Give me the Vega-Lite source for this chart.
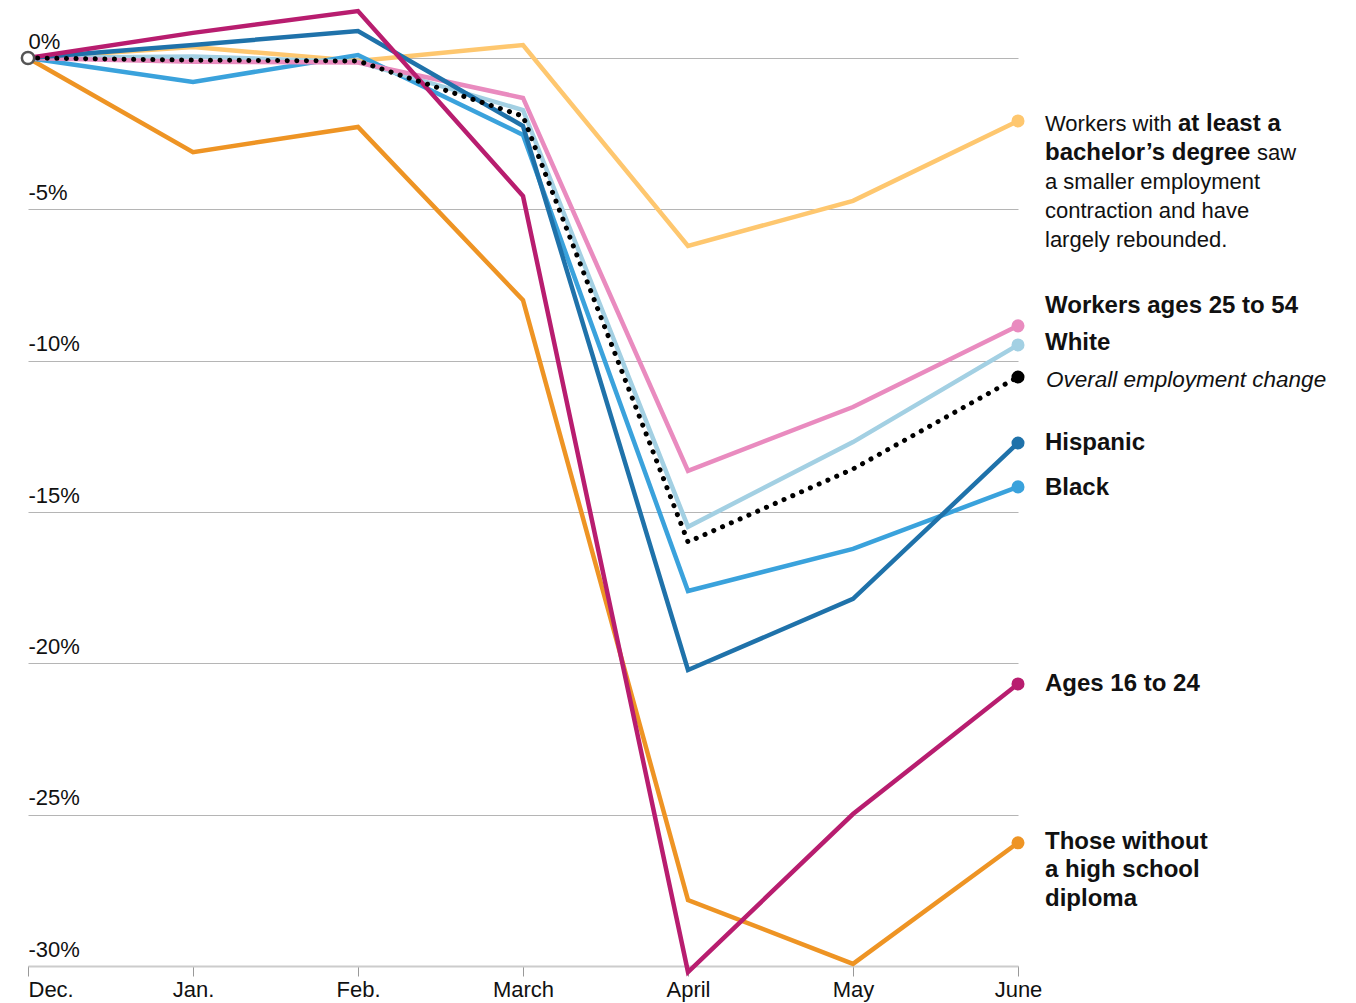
{
  "$schema": "https://vega.github.io/schema/vega-lite/v6.json",
  "autosize": {"type": "none"},
  "width": 990,
  "height": 908,
  "padding": {"left": 28, "top": 58, "right": 338, "bottom": 37},
  "background": "white",
  "config": {"view": {"stroke": null}, "font": "Liberation Sans"},
  "datasets": {
    "series": [
      {"month": "Dec.", "series": "bach", "value": 0},
      {"month": "Jan.", "series": "bach", "value": 0.36},
      {"month": "Feb.", "series": "bach", "value": -0.1},
      {"month": "March", "series": "bach", "value": 0.43},
      {"month": "April", "series": "bach", "value": -6.21},
      {"month": "May", "series": "bach", "value": -4.72},
      {"month": "June", "series": "bach", "value": -2.08},
      {"month": "Dec.", "series": "nohs", "value": 0},
      {"month": "Jan.", "series": "nohs", "value": -3.11},
      {"month": "Feb.", "series": "nohs", "value": -2.28},
      {"month": "March", "series": "nohs", "value": -8.0},
      {"month": "April", "series": "nohs", "value": -27.82},
      {"month": "May", "series": "nohs", "value": -29.93},
      {"month": "June", "series": "nohs", "value": -25.93},
      {"month": "Dec.", "series": "black", "value": 0},
      {"month": "Jan.", "series": "black", "value": -0.79},
      {"month": "Feb.", "series": "black", "value": 0.1},
      {"month": "March", "series": "black", "value": -2.54},
      {"month": "April", "series": "black", "value": -17.61},
      {"month": "May", "series": "black", "value": -16.22},
      {"month": "June", "series": "black", "value": -14.17},
      {"month": "Dec.", "series": "white", "value": 0},
      {"month": "Jan.", "series": "white", "value": 0.05},
      {"month": "Feb.", "series": "white", "value": -0.13},
      {"month": "March", "series": "white", "value": -1.72},
      {"month": "April", "series": "white", "value": -15.49},
      {"month": "May", "series": "white", "value": -12.69},
      {"month": "June", "series": "white", "value": -9.48},
      {"month": "Dec.", "series": "p2554", "value": 0},
      {"month": "Jan.", "series": "p2554", "value": -0.12},
      {"month": "Feb.", "series": "p2554", "value": -0.15},
      {"month": "March", "series": "p2554", "value": -1.32},
      {"month": "April", "series": "p2554", "value": -13.64},
      {"month": "May", "series": "p2554", "value": -11.53},
      {"month": "June", "series": "p2554", "value": -8.85},
      {"month": "Dec.", "series": "hisp", "value": 0},
      {"month": "Jan.", "series": "hisp", "value": 0.43},
      {"month": "Feb.", "series": "hisp", "value": 0.89},
      {"month": "March", "series": "hisp", "value": -2.25},
      {"month": "April", "series": "hisp", "value": -20.22},
      {"month": "May", "series": "hisp", "value": -17.87},
      {"month": "June", "series": "hisp", "value": -12.72},
      {"month": "Dec.", "series": "y1624", "value": 0},
      {"month": "Jan.", "series": "y1624", "value": 0.83},
      {"month": "Feb.", "series": "y1624", "value": 1.55},
      {"month": "March", "series": "y1624", "value": -4.56},
      {"month": "April", "series": "y1624", "value": -30.2},
      {"month": "May", "series": "y1624", "value": -24.98},
      {"month": "June", "series": "y1624", "value": -20.68},
      {"month": "Dec.", "series": "overall", "value": 0},
      {"month": "Jan.", "series": "overall", "value": -0.07},
      {"month": "Feb.", "series": "overall", "value": -0.1},
      {"month": "March", "series": "overall", "value": -1.92},
      {"month": "April", "series": "overall", "value": -15.99},
      {"month": "May", "series": "overall", "value": -13.58},
      {"month": "June", "series": "overall", "value": -10.54}
    ],
    "labels": [
      {"text": "Workers with", "pos": -2.18, "kind": "normal"},
      {"text": "at least a", "pos": -2.18, "kind": "bold_after1"},
      {"text": "bachelor’s degree", "pos": -3.14, "kind": "bold"},
      {"text": "saw", "pos": -3.14, "kind": "normal_after2"},
      {"text": "a smaller employment", "pos": -4.10, "kind": "normal"},
      {"text": "contraction and have", "pos": -5.05, "kind": "normal"},
      {"text": "largely rebounded.", "pos": -6.01, "kind": "normal"},
      {"text": "Workers ages 25 to 54", "pos": -8.19, "kind": "bold"},
      {"text": "White", "pos": -9.42, "kind": "bold"},
      {"text": "Overall employment change", "pos": -10.64, "kind": "italic"},
      {"text": "Hispanic", "pos": -12.72, "kind": "bold"},
      {"text": "Black", "pos": -14.21, "kind": "bold"},
      {"text": "Ages 16 to 24", "pos": -20.68, "kind": "bold"},
      {"text": "Those without", "pos": -25.90, "kind": "bold"},
      {"text": "a high school", "pos": -26.83, "kind": "bold"},
      {"text": "diploma", "pos": -27.78, "kind": "bold"}
    ]
  },
  "encoding": {
    "x": {
      "field": "month", "type": "ordinal",
      "scale": {"type": "point", "padding": 0, "domain": ["Dec.", "Jan.", "Feb.", "March", "April", "May", "June"]},
      "axis": {
        "title": null, "labelAngle": 0, "grid": false,
        "tickSize": 10, "tickColor": "#999", "tickWidth": 1,
        "domainColor": "#cccccc", "domainWidth": 2,
        "labelFont": "Liberation Sans", "labelFontSize": 22, "labelColor": "#111",
        "labelPadding": 3,
        "labelAlign": {"condition": {"test": "datum.value === 'Dec.'", "value": "left"}, "value": "center"}
      }
    },
    "y": {
      "field": "value", "type": "quantitative",
      "scale": {"domain": [-30, 0], "nice": false, "zero": false},
      "axis": {
        "title": null, "values": [-30, -25, -20, -15, -10, -5, 0],
        "grid": true, "gridColor": "#b5b5b5", "gridWidth": 1,
        "domain": false, "ticks": false, "tickSize": 0,
        "labelAlign": "left", "labelPadding": 0, "labelBaseline": "alphabetic", "labelOffset": -10,
        "labelFont": "Liberation Sans", "labelFontSize": 22, "labelColor": "#111",
        "labelExpr": "datum.value + '%'"
      }
    }
  },
  "layer": [
    {
      "data": {"values": [{"v": 0}]},
      "mark": {"type": "rule", "color": "#333", "strokeWidth": 1},
      "encoding": {"y": {"datum": 0, "type": "quantitative"}, "x": null}
    },
    {
      "data": {"name": "series"},
      "transform": [{"filter": "datum.series !== 'overall'"}],
      "mark": {"type": "line", "strokeWidth": 4.5, "strokeJoin": "miter"},
      "encoding": {
        "color": {
          "field": "series", "type": "nominal", "legend": null,
          "scale": {
            "domain": ["bach", "nohs", "black", "white", "p2554", "hisp", "y1624", "overall"],
            "range": ["#fec76f", "#ee9424", "#3aa2dc", "#a3d0e3", "#e98bbf", "#1f72aa", "#b81d6f", "#000000"]
          }
        }
      }
    },
    {
      "data": {"name": "series"},
      "transform": [{"filter": "datum.series === 'overall'"}],
      "mark": {"type": "line", "strokeWidth": 5, "color": "#000", "strokeDash": [0.1, 9.5], "strokeCap": "round"}
    },
    {
      "data": {"name": "series"},
      "transform": [{"filter": "datum.month === 'June'"}],
      "mark": {"type": "point", "filled": true, "opacity": 1, "size": 170},
      "encoding": {
        "color": {"field": "series", "type": "nominal", "legend": null}
      }
    },
    {
      "data": {"name": "series"},
      "transform": [{"filter": "datum.month === 'Dec.' && datum.series === 'overall'"}],
      "mark": {"type": "point", "filled": false, "fill": "white", "fillOpacity": 1, "stroke": "#555", "strokeWidth": 2.5, "opacity": 1, "size": 150}
    },
    {
      "data": {"name": "labels"},
      "transform": [{"filter": "datum.kind === 'normal'"}],
      "mark": {"type": "text", "align": "left", "baseline": "middle", "dx": 27, "fontSize": 22, "font": "Liberation Sans", "color": "#111"},
      "encoding": {"x": {"datum": "June", "type": "ordinal"}, "y": {"field": "pos", "type": "quantitative"}, "text": {"field": "text"}}
    },
    {
      "data": {"name": "labels"},
      "transform": [{"filter": "datum.kind === 'bold'"}],
      "mark": {"type": "text", "align": "left", "baseline": "middle", "dx": 27, "fontSize": 24, "font": "Liberation Sans", "fontWeight": "bold", "color": "#111"},
      "encoding": {"x": {"datum": "June", "type": "ordinal"}, "y": {"field": "pos", "type": "quantitative"}, "text": {"field": "text"}}
    },
    {
      "data": {"name": "labels"},
      "transform": [{"filter": "datum.kind === 'bold_after1'"}],
      "mark": {"type": "text", "align": "left", "baseline": "middle", "dx": 160, "fontSize": 24, "font": "Liberation Sans", "fontWeight": "bold", "color": "#111"},
      "encoding": {"x": {"datum": "June", "type": "ordinal"}, "y": {"field": "pos", "type": "quantitative"}, "text": {"field": "text"}}
    },
    {
      "data": {"name": "labels"},
      "transform": [{"filter": "datum.kind === 'normal_after2'"}],
      "mark": {"type": "text", "align": "left", "baseline": "middle", "dx": 239, "fontSize": 22, "font": "Liberation Sans", "color": "#111"},
      "encoding": {"x": {"datum": "June", "type": "ordinal"}, "y": {"field": "pos", "type": "quantitative"}, "text": {"field": "text"}}
    },
    {
      "data": {"name": "labels"},
      "transform": [{"filter": "datum.kind === 'italic'"}],
      "mark": {"type": "text", "align": "left", "baseline": "middle", "dx": 28, "fontSize": 22.5, "font": "Liberation Sans", "fontStyle": "italic", "color": "#111"},
      "encoding": {"x": {"datum": "June", "type": "ordinal"}, "y": {"field": "pos", "type": "quantitative"}, "text": {"field": "text"}}
    }
  ]
}
